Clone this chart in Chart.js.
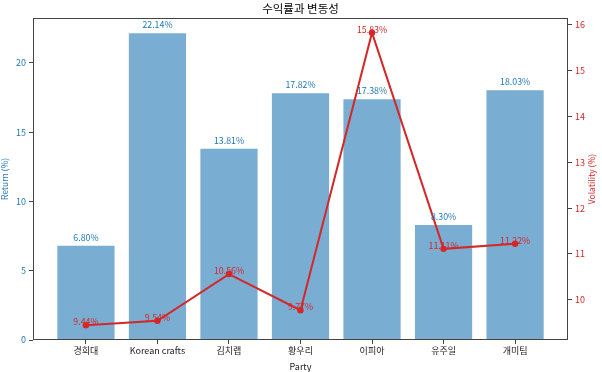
<!DOCTYPE html>
<html>
<head>
<meta charset="utf-8">
<script src="https://cdn.jsdelivr.net/npm/chart.js@4"></script>
<style>
  html, body { margin: 0; padding: 0; background: #fff; }
  #wrap { width: 602px; height: 372px; }
</style>
</head>
<body>
<div id="wrap"><canvas id="myChart" width="602" height="372"></canvas></div>
<script>
const names = ['경희대', 'Korean crafts', '김치랩', '황우리', '이피아', '유주일', '개미팀'];
const returns = [6.80, 22.14, 13.81, 17.82, 17.38, 8.30, 18.03];
const volatility = [9.44, 9.54, 10.56, 9.77, 15.83, 11.11, 11.22];
const returnTicks = [0, 5, 10, 15, 20];
const volTicks = [10, 11, 12, 13, 14, 15, 16];

const FONT = "'Noto Sans CJK KR', 'Noto Sans', sans-serif";
const BLUE = '#1f77b4';
const RED = '#d62728';

// matplotlib-like margins
const retMax = Math.max(...returns) * 1.05;
const volSpan = Math.max(...volatility) - Math.min(...volatility);
const volMin = Math.min(...volatility) - volSpan * 0.05;
const volMax = Math.max(...volatility) + volSpan * 0.05;
const xPad = (names.length - 1 + 0.8) * 0.05 + 0.4;

const barData = returns.map((v, i) => ({ x: i, y: v }));
const lineData = volatility.map((v, i) => ({ x: i, y: v }));

const extras = {
    id: 'extras',
    afterDatasetsDraw(chart) {
        const c = chart.ctx;
        const area = chart.chartArea;
        c.save();
        // frame
        c.strokeStyle = '#444';
        c.lineWidth = 1;
        c.strokeRect(Math.round(area.left) + 0.5, Math.round(area.top) + 0.5,
            Math.round(area.right - area.left) - 1, Math.round(area.bottom - area.top) - 1);
        // title
        c.fillStyle = '#000';
        c.font = '11.5px ' + FONT;
        c.textAlign = 'center';
        c.textBaseline = 'middle';
        c.fillText('수익률과 변동성', (area.left + area.right) / 2, 9);
        // right axis title, rotated like the left one
        c.save();
        c.translate(592, (area.top + area.bottom) / 2);
        c.rotate(-Math.PI / 2);
        c.fillStyle = RED;
        c.font = '8.5px ' + FONT;
        c.fillText('Volatility (%)', 0, 0);
        c.restore();
        // value labels
        c.font = '8.8px ' + FONT;
        c.textBaseline = 'bottom';
        const barMeta = chart.getDatasetMeta(1);
        c.fillStyle = BLUE;
        barMeta.data.forEach((el, i) => {
            c.fillText(returns[i].toFixed(2) + '%', el.x, el.y - 4);
        });
        const lineMeta = chart.getDatasetMeta(0);
        c.fillStyle = RED;
        lineMeta.data.forEach((el, i) => {
            c.fillText(volatility[i].toFixed(2) + '%', el.x, el.y + 1);
        });
        c.restore();
    }
};

let ctx = document.getElementById('myChart').getContext('2d');

new Chart(ctx, {
    data: {
        datasets: [{
            type: 'line',
            label: 'Volatility (%)',
            data: lineData,
            yAxisID: 'y1',
            borderColor: RED,
            backgroundColor: RED,
            borderWidth: 2,
            pointRadius: 3.2,
            pointBackgroundColor: RED,
            pointBorderWidth: 0,
            tension: 0,
            order: 0
        }, {
            type: 'bar',
            label: 'Return (%)',
            data: barData,
            yAxisID: 'y',
            backgroundColor: 'rgba(31, 119, 180, 0.6)',
            borderWidth: 0,
            barPercentage: 0.8,
            categoryPercentage: 1,
            order: 1
        }]
    },
    options: {
        responsive: false,
        animation: false,
        layout: { padding: { top: 18, left: 0, right: 0, bottom: 0 } },
        plugins: {
            legend: { display: false },
            tooltip: { enabled: false }
        },
        scales: {
            x: {
                type: 'linear',
                offset: false,
                min: -xPad,
                max: names.length - 1 + xPad,
                afterFit: (s) => { s.height = 32; },
                border: { display: false },
                grid: { drawOnChartArea: false, tickLength: 4, color: '#444', offset: false },
                ticks: {
                    stepSize: 1,
                    includeBounds: false,
                    autoSkip: false,
                    maxRotation: 0,
                    padding: 1,
                    color: '#222',
                    font: { family: FONT, size: 9 },
                    callback: (v) => names[v] ?? ''
                },
                title: {
                    display: true,
                    text: 'Party',
                    color: '#222',
                    font: { family: FONT, size: 9 },
                    padding: 0
                }
            },
            y: {
                position: 'left',
                min: 0,
                max: retMax,
                afterFit: (s) => { s.width = 33; },
                afterBuildTicks: (s) => { s.ticks = returnTicks.map(v => ({ value: v })); },
                border: { display: false },
                grid: { drawOnChartArea: false, tickLength: 4, color: '#444' },
                ticks: {
                    color: BLUE,
                    padding: 3,
                    font: { family: FONT, size: 9 }
                },
                title: {
                    display: true,
                    text: 'Return (%)',
                    color: BLUE,
                    font: { family: FONT, size: 8.5 },
                    padding: 0
                }
            },
            y1: {
                position: 'right',
                min: volMin,
                max: volMax,
                afterFit: (s) => { s.width = 34; },
                afterBuildTicks: (s) => { s.ticks = volTicks.map(v => ({ value: v })); },
                border: { display: false },
                grid: { drawOnChartArea: false, tickLength: 4, color: '#444' },
                ticks: {
                    color: RED,
                    padding: 3,
                    font: { family: FONT, size: 9 }
                }
            }
        }
    },
    plugins: [extras]
});
</script>
</body>
</html>
